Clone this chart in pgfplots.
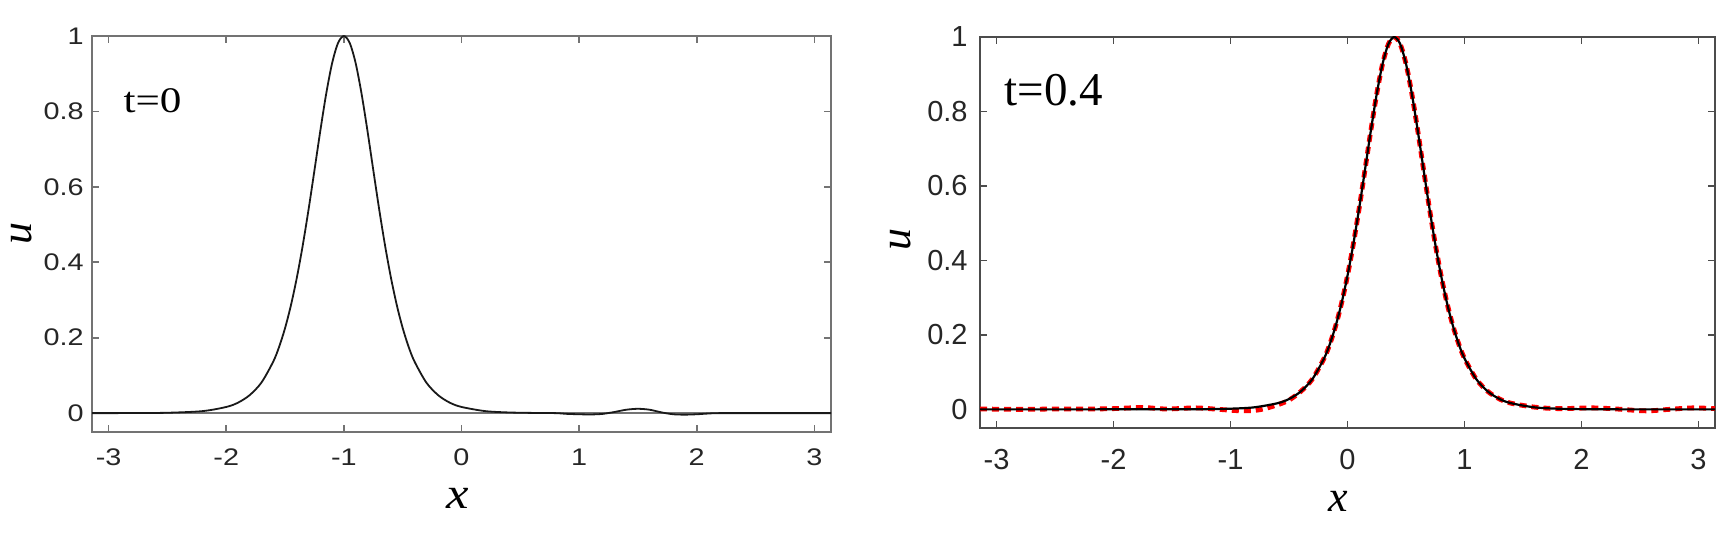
\documentclass[border=0pt]{standalone}
\usepackage{fontspec}
\setmainfont{Liberation Serif}
\newfontfamily\arialf{Liberation Sans}
\usepackage{pgfplots}
\pgfplotsset{compat=1.18}

% u(x) at t=0 (left panel)
\pgfplotstableread{
x u
-3.1416 0
-2.8 0.0002
-2.5 0.001
-2.2 0.0054
-2.0 0.0164
-1.9 0.0278
-1.8 0.048
-1.7 0.0815
-1.6 0.1371
-1.55 0.1763
-1.5 0.2256
-1.45 0.2863
-1.4 0.3592
-1.35 0.4444
-1.3 0.5406
-1.25 0.6443
-1.2 0.7495
-1.15 0.8474
-1.1 0.928
-1.05 0.9813
-1.0 1
-0.95 0.9813
-0.9 0.928
-0.85 0.8474
-0.8 0.7495
-0.75 0.6443
-0.7 0.5406
-0.65 0.4444
-0.6 0.3592
-0.55 0.2863
-0.5 0.2256
-0.45 0.1763
-0.4 0.1371
-0.3 0.0815
-0.2 0.048
-0.1 0.0278
0 0.0164
0.2 0.0054
0.4 0.0018
0.6 0.0006
0.8 0
0.9 -0.002
1.0 -0.003
1.1 -0.0035
1.2 -0.002
1.3 0.003
1.4 0.009
1.5 0.0115
1.6 0.009
1.7 0.002
1.8 -0.003
1.9 -0.004
2.0 -0.003
2.1 -0.001
2.2 0
2.6 0
3.1416 0
}\tzero

% u(x) at t=0.4, black solid
\pgfplotstableread{
x u
-3.1416 0
-2.5 0
-1.6 0.0002
-1.2 0.0006
-1.0 0.0018
-0.8 0.0054
-0.6 0.0164
-0.5 0.0278
-0.4 0.048
-0.3 0.0815
-0.2 0.1371
-0.15 0.1763
-0.1 0.2256
-0.05 0.2863
0.0 0.3592
0.05 0.4444
0.1 0.5406
0.15 0.6443
0.2 0.7495
0.25 0.8474
0.3 0.928
0.35 0.9813
0.4 1
0.45 0.9813
0.5 0.928
0.55 0.8474
0.6 0.7495
0.65 0.6443
0.7 0.5406
0.75 0.4444
0.8 0.3592
0.85 0.2863
0.9 0.2256
0.95 0.1763
1.0 0.1371
1.1 0.0815
1.2 0.048
1.3 0.0278
1.4 0.0164
1.6 0.0054
1.8 0.0018
2.0 0.0006
2.4 0
3.1416 0
}\tblack

% u(x) at t=0.4, red dashed
\pgfplotstableread{
x u
-3.1416 0.001
-2.8 0
-2.5 0.001
-2.2 0.001
-2.0 0.002
-1.75 0.005
-1.55 0.001
-1.3 0.004
-1.1 0
-0.9 -0.004
-0.75 -0.001
-0.6 0.012
-0.5 0.025
-0.4 0.048
-0.3 0.0815
-0.2 0.1371
-0.15 0.1763
-0.1 0.2256
-0.05 0.2863
0.0 0.3592
0.05 0.4444
0.1 0.5406
0.15 0.6443
0.2 0.7495
0.25 0.8474
0.3 0.928
0.35 0.9813
0.4 1
0.45 0.9813
0.5 0.928
0.55 0.8474
0.6 0.7495
0.65 0.6443
0.7 0.5406
0.75 0.4444
0.8 0.3592
0.85 0.2863
0.9 0.2256
0.95 0.1763
1.0 0.1371
1.1 0.0815
1.2 0.048
1.3 0.0278
1.4 0.0164
1.6 0.006
1.8 0.002
2.1 0.004
2.3 0.001
2.55 -0.004
2.75 0
2.95 0.004
3.1416 0.002
}\tred

\begin{document}
\begin{tikzpicture}
\useasboundingbox (0,0) rectangle (859pt,272pt);

\pgfplotsset{
  panel/.style={
    scale only axis,
    anchor=south west,
    xmin=-3.1416, xmax=3.1416,
    ymin=-0.05, ymax=1,
    xtick={-3,-2,-1,0,1,2,3},
    ytick={0,0.2,0.4,0.6,0.8,1},
    xtick pos=both, ytick pos=both,
    xticklabel pos=lower, yticklabel pos=left,
    tick align=inside,
    major tick length=3.5pt,
    /pgf/number format/assume math mode=true,
    label style={font=\fontsize{22}{24}\selectfont\itshape},
    xlabel={x}, ylabel={u},
  },
}

% left panel, t=0
\begin{axis}[panel,
  at={(46pt,56pt)}, width=369.5pt, height=198pt,
  axis line style={black!55, line width=0.9pt},
  tick style={black!55, line width=0.8pt},
  ticklabel style={font=\fontsize{12}{14}\selectfont\arialf, text=black!85, inner sep=0pt, xscale=1.2},
  xticklabel style={anchor=north, yshift=-8.3pt},
  yticklabel style={anchor=east, xshift=-3.3pt},
  xlabel style={at={(axis description cs:0.495,-0.168)}, anchor=center, xscale=1.15},
  ylabel style={at={(axis description cs:-0.095,0.5)}, anchor=center, rotate=0},
]
\addplot[black!55, line width=1.1pt] coordinates {(-3.1416,0) (3.1416,0)};
\addplot[black!90, line width=0.9pt, smooth] table[x=x, y=u] {\tzero};
\node[anchor=base west, inner sep=0pt, font=\fontsize{18}{20}\selectfont, xscale=1.2]
  at (axis description cs:0.042,0.808) {t=0};
\end{axis}

% right panel, t=0.4
\begin{axis}[panel,
  at={(490pt,58pt)}, width=367.5pt, height=195.5pt,
  axis line style={black!70, line width=0.9pt},
  tick style={black!70, line width=0.8pt},
  ticklabel style={font=\fontsize{14.5}{16}\selectfont\arialf, text=black!85, inner sep=0pt},
  xticklabel style={anchor=north, yshift=-10.5pt},
  yticklabel style={anchor=east, xshift=-6pt},
  xlabel style={at={(axis description cs:0.488,-0.189)}, anchor=center},
  ylabel style={at={(axis description cs:-0.108,0.483)}, anchor=center, rotate=0},
]
\addplot[red, line width=2.4pt, dash pattern=on 3.5pt off 2.5pt, smooth] table[x=x, y=u] {\tred};
\addplot[black, line width=1.1pt, smooth] table[x=x, y=u] {\tblack};
\node[anchor=base west, inner sep=0pt, font=\fontsize{23.5}{26}\selectfont]
  at (axis description cs:0.033,0.826) {t=0.4};
\end{axis}
\end{tikzpicture}
\end{document}
